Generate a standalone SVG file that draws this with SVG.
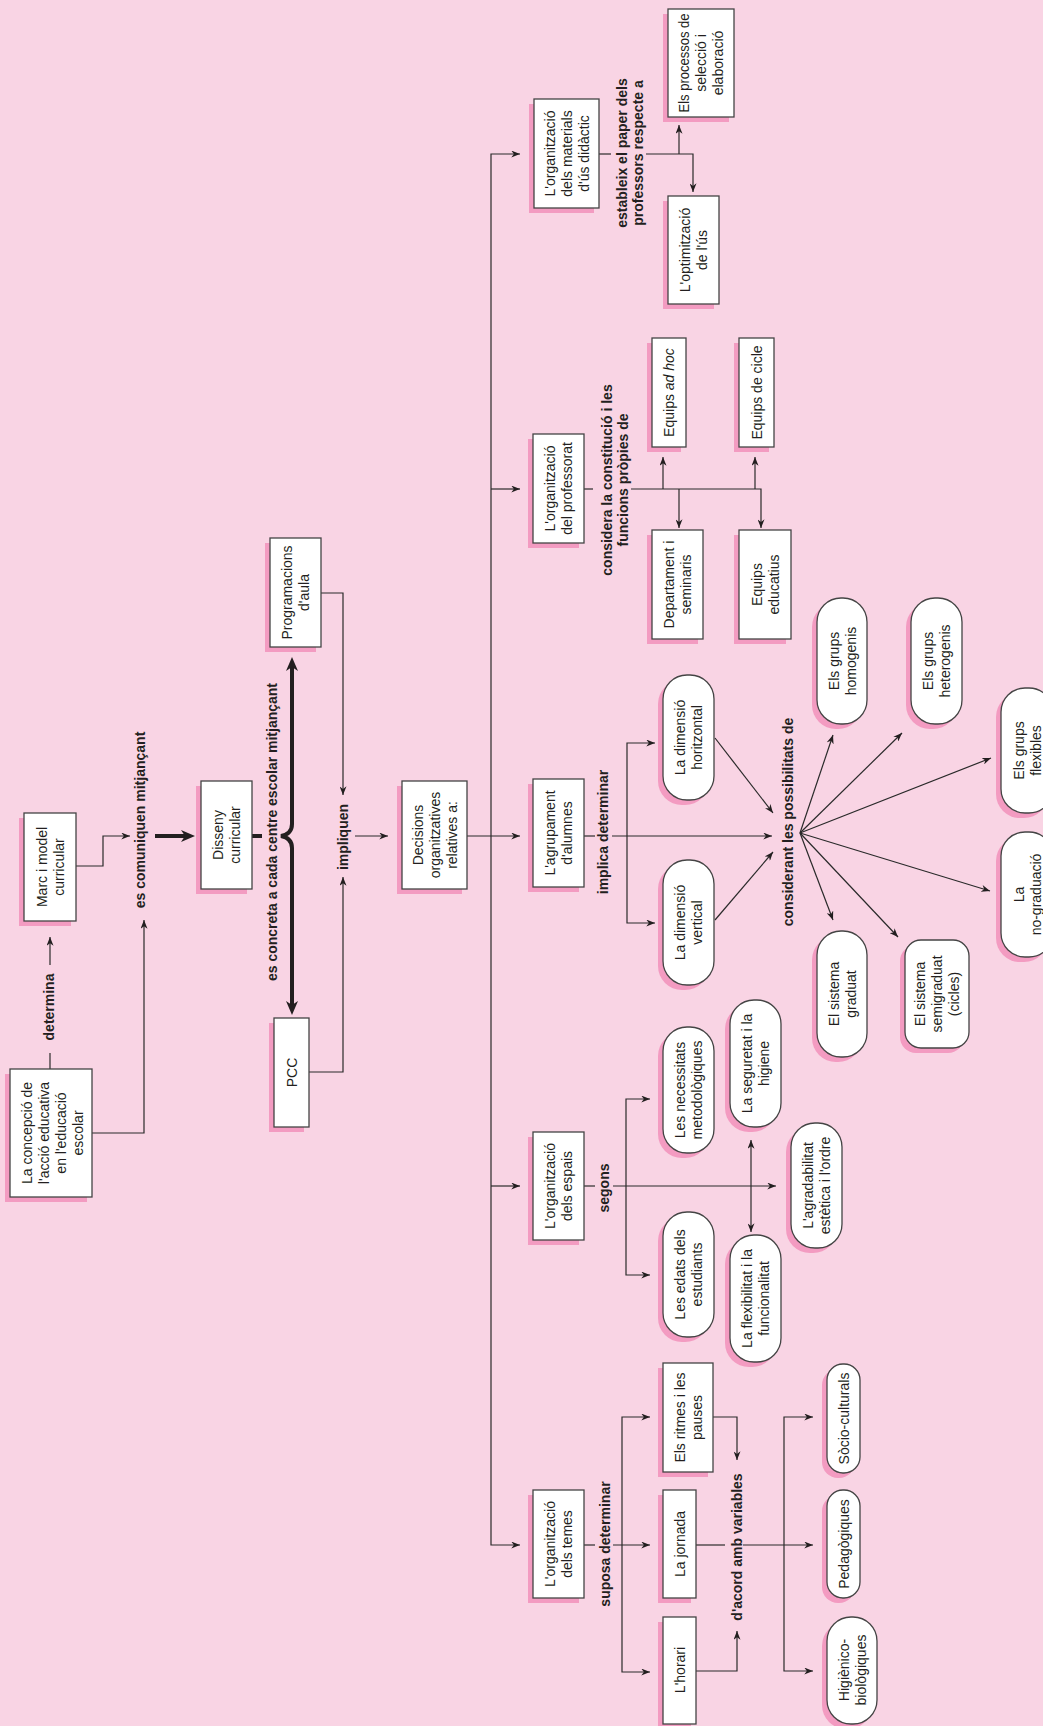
<svg xmlns="http://www.w3.org/2000/svg" width="1043" height="1726" viewBox="0 0 1043 1726">
<defs>
<style>
.sh{fill:#f39bc1}
.bx{fill:#fff;stroke:#444;stroke-width:1.3}
.t{font-family:"Liberation Sans",Arial,sans-serif;font-size:14px;fill:#231f20;text-anchor:middle}
.b{font-weight:bold}
.ln{fill:none;stroke:#2a2a2a;stroke-width:1.2}
.a{marker-end:url(#ar)}
.aa{marker-start:url(#ar);marker-end:url(#ar)}
.tk{fill:none;stroke:#231f20;stroke-width:4}
</style>
<marker id="ar" viewBox="0 0 10 8" refX="10" refY="4" markerWidth="9" markerHeight="7" markerUnits="userSpaceOnUse" orient="auto-start-reverse"><path d="M0,0 L10,4 L0,8 L3,4 z" fill="#231f20"/></marker>
<marker id="tkar" viewBox="0 0 14 12" refX="8" refY="6" markerWidth="14" markerHeight="12" markerUnits="userSpaceOnUse" orient="auto-start-reverse"><path d="M0,0 L14,6 L0,12 L4,6 z" fill="#231f20"/></marker>
</defs>
<rect width="1043" height="1726" fill="#f9d4e4"/>

<g id="connectors">
<path class="ln" d="M50,1069 V1053"/>
<path class="ln a" d="M50,965 V937"/>
<path class="ln a" d="M92,1133 H144 V920"/>
<path class="ln a" d="M76,866 H103 V836 H130"/>
<path class="tk" d="M155,836 H189" marker-end="url(#tkar)"/>
<path class="tk" d="M252,836 H262"/>
<path class="tk" d="M292,663 V824 Q292,834 281,836 Q292,838 292,848 V1009" marker-start="url(#tkar)" marker-end="url(#tkar)"/>
<path class="ln a" d="M321,593 H343 V795"/>
<path class="ln a" d="M309,1072 H343 V877"/>
<path class="ln a" d="M355,836 H388"/>
<path class="ln a" d="M467,836 H520"/>
<path class="ln aa" d="M520,154 H491 V1545 H520"/>
<path class="ln a" d="M491,489 H520"/>
<path class="ln a" d="M491,1186 H520"/>
<path class="ln" d="M599,154 H611"/>
<path class="ln a" d="M646,154 H693 V192"/>
<path class="ln a" d="M679,154 V125"/>
<path class="ln" d="M584,489 H593"/>
<path class="ln a" d="M631,489 H761 V528"/>
<path class="ln a" d="M663,489 V457"/>
<path class="ln a" d="M679,489 V528"/>
<path class="ln a" d="M755,489 V457"/>
<path class="ln" d="M584,836 H595"/>
<path class="ln a" d="M612,836 H772"/>
<path class="ln aa" d="M655,743 H627 V923 H655"/>
<path class="ln a" d="M715,738 L773,813"/>
<path class="ln a" d="M715,920 L773,852"/>
<path class="ln a" d="M800,833 L833,735"/>
<path class="ln a" d="M800,833 L902,733"/>
<path class="ln a" d="M800,833 L991,758"/>
<path class="ln a" d="M800,833 L990,891"/>
<path class="ln a" d="M800,833 L898,937"/>
<path class="ln a" d="M800,833 L833,920"/>
<path class="ln" d="M584,1186 H595"/>
<path class="ln a" d="M613,1186 H776"/>
<path class="ln aa" d="M650,1099 H626 V1275 H650"/>
<path class="ln aa" d="M751,1140 V1232"/>
<path class="ln" d="M584,1545 H595"/>
<path class="ln a" d="M613,1545 H650"/>
<path class="ln aa" d="M650,1417 H622 V1672 H650"/>
<path class="ln a" d="M713,1417 H737 V1460"/>
<path class="ln a" d="M696,1671 H737 V1631"/>
<path class="ln" d="M696,1545 H725"/>
<path class="ln a" d="M743,1545 H813"/>
<path class="ln aa" d="M813,1417 H784 V1671 H813"/>
</g>

<g id="labels">
<text class="t b" transform="translate(49,1007) rotate(-90)"><tspan x="0" y="5">determina</tspan></text>
<text class="t b" transform="translate(140,820) rotate(-90)"><tspan x="0" y="5">es comuniquen mitjançant</tspan></text>
<text class="t b" transform="translate(272,832) rotate(-90)"><tspan x="0" y="5">es concreta a cada centre escolar mitjançant</tspan></text>
<text class="t b" transform="translate(343,837) rotate(-90)"><tspan x="0" y="5">impliquen</tspan></text>
<text class="t b" transform="translate(630,153) rotate(-90)"><tspan x="0" y="-3">estableix el paper dels</tspan><tspan x="0" y="13">professors respecte a</tspan></text>
<text class="t b" transform="translate(614.5,480) rotate(-90)"><tspan x="0" y="-3">considera la constitució i les</tspan><tspan x="0" y="13">funcions pròpies de</tspan></text>
<text class="t b" transform="translate(603,832) rotate(-90)"><tspan x="0" y="5">implica determinar</tspan></text>
<text class="t b" transform="translate(788,822) rotate(-90)"><tspan x="0" y="5">considerant les possibilitats de</tspan></text>
<text class="t b" transform="translate(604,1188) rotate(-90)"><tspan x="0" y="5">segons</tspan></text>
<text class="t b" transform="translate(605,1544) rotate(-90)"><tspan x="0" y="5">suposa determinar</tspan></text>
<text class="t b" transform="translate(737,1547) rotate(-90)"><tspan x="0" y="5">d'acord amb variables</tspan></text>
</g>

<g id="n-concepcio"><rect class="sh" x="5" y="1074" width="82" height="128"/><rect class="bx" x="10" y="1069" width="82" height="128"/>
<text class="t" transform="translate(52,1133) rotate(-90)"><tspan x="0" y="-20.5">La concepció de</tspan><tspan x="0" y="-3.5">l'acció educativa</tspan><tspan x="0" y="13.5">en l'educació</tspan><tspan x="0" y="30.5">escolar</tspan></text></g>

<g id="n-marc"><rect class="sh" x="19" y="818" width="52" height="108"/><rect class="bx" x="24" y="813" width="52" height="108"/>
<text class="t" transform="translate(50,867) rotate(-90)"><tspan x="0" y="-3.5">Marc i model</tspan><tspan x="0" y="13.5">curricular</tspan></text></g>

<g id="n-disseny"><rect class="sh" x="196" y="786" width="51" height="108"/><rect class="bx" x="201" y="781" width="51" height="108"/>
<text class="t" transform="translate(226.5,835) rotate(-90)"><tspan x="0" y="-3.5">Disseny</tspan><tspan x="0" y="13.5">curricular</tspan></text></g>

<g id="n-programacions"><rect class="sh" x="265" y="543" width="51" height="109"/><rect class="bx" x="270" y="538" width="51" height="109"/>
<text class="t" transform="translate(295.5,592.5) rotate(-90)"><tspan x="0" y="-3.5">Programacions</tspan><tspan x="0" y="13.5">d'aula</tspan></text></g>

<g id="n-pcc"><rect class="sh" x="269" y="1023" width="35" height="109"/><rect class="bx" x="274" y="1018" width="35" height="109"/>
<text class="t" transform="translate(291.5,1072.5) rotate(-90)"><tspan x="0" y="5">PCC</tspan></text></g>

<g id="n-decisions"><rect class="sh" x="397" y="786" width="65" height="108"/><rect class="bx" x="402" y="781" width="65" height="108"/>
<text class="t" transform="translate(434.5,835) rotate(-90)"><tspan x="0" y="-12">Decisions</tspan><tspan x="0" y="5">organitzatives</tspan><tspan x="0" y="22">relatives a:</tspan></text></g>

<g id="n-materials"><rect class="sh" x="529" y="104" width="65" height="109"/><rect class="bx" x="534" y="99" width="65" height="109"/>
<text class="t" transform="translate(566.5,153.5) rotate(-90)"><tspan x="0" y="-12">L'organització</tspan><tspan x="0" y="5">dels materials</tspan><tspan x="0" y="22">d'ús didàctic</tspan></text></g>

<g id="n-processos"><rect class="sh" x="663" y="14" width="66" height="108"/><rect class="bx" x="668" y="9" width="66" height="108"/>
<text class="t" transform="translate(701,63) rotate(-90)"><tspan x="0" y="-12" textLength="99" lengthAdjust="spacingAndGlyphs">Els processos de</tspan><tspan x="0" y="5">selecció i</tspan><tspan x="0" y="22">elaboració</tspan></text></g>

<g id="n-optimitzacio"><rect class="sh" x="663" y="201" width="51" height="108"/><rect class="bx" x="668" y="196" width="51" height="108"/>
<text class="t" transform="translate(693.5,250) rotate(-90)"><tspan x="0" y="-3.5">L'optimització</tspan><tspan x="0" y="13.5">de l'ús</tspan></text></g>

<g id="n-professorat"><rect class="sh" x="528" y="439" width="51" height="109"/><rect class="bx" x="533" y="434" width="51" height="109"/>
<text class="t" transform="translate(558.5,488.5) rotate(-90)"><tspan x="0" y="-3.5">L'organització</tspan><tspan x="0" y="13.5">del professorat</tspan></text></g>

<g id="n-adhoc"><rect class="sh" x="647" y="343" width="34" height="109"/><rect class="bx" x="652" y="338" width="34" height="109"/>
<text class="t" transform="translate(669,392.5) rotate(-90)"><tspan x="0" y="5">Equips <tspan font-style="italic">ad hoc</tspan></tspan></text></g>

<g id="n-cicle"><rect class="sh" x="734" y="343" width="35" height="109"/><rect class="bx" x="739" y="338" width="35" height="109"/>
<text class="t" transform="translate(756.5,392.5) rotate(-90)"><tspan x="0" y="5">Equips de cicle</tspan></text></g>

<g id="n-departament"><rect class="sh" x="647" y="535" width="51" height="109"/><rect class="bx" x="652" y="530" width="51" height="109"/>
<text class="t" transform="translate(677.5,584.5) rotate(-90)"><tspan x="0" y="-3.5">Departament i</tspan><tspan x="0" y="13.5">seminaris</tspan></text></g>

<g id="n-educatius"><rect class="sh" x="734" y="535" width="52" height="109"/><rect class="bx" x="739" y="530" width="52" height="109"/>
<text class="t" transform="translate(765,584.5) rotate(-90)"><tspan x="0" y="-3.5">Equips</tspan><tspan x="0" y="13.5">educatius</tspan></text></g>

<g id="n-agrupament"><rect class="sh" x="528" y="784" width="51" height="108"/><rect class="bx" x="533" y="779" width="51" height="108"/>
<text class="t" transform="translate(558.5,833) rotate(-90)"><tspan x="0" y="-3.5">L'agrupament</tspan><tspan x="0" y="13.5">d'alumnes</tspan></text></g>

<g id="n-horitzontal"><rect class="sh" x="658" y="680" width="51" height="125" rx="24"/><rect class="bx" x="663" y="675" width="51" height="125" rx="24"/>
<text class="t" transform="translate(688.5,737.5) rotate(-90)"><tspan x="0" y="-3.5">La dimensió</tspan><tspan x="0" y="13.5">horitzontal</tspan></text></g>

<g id="n-vertical"><rect class="sh" x="658" y="865" width="51" height="125" rx="24"/><rect class="bx" x="663" y="860" width="51" height="125" rx="24"/>
<text class="t" transform="translate(688.5,922.5) rotate(-90)"><tspan x="0" y="-3.5">La dimensió</tspan><tspan x="0" y="13.5">vertical</tspan></text></g>

<g id="n-homogenis"><rect class="sh" x="812" y="603" width="50" height="126" rx="24"/><rect class="bx" x="817" y="598" width="50" height="126" rx="24"/>
<text class="t" transform="translate(842,661) rotate(-90)"><tspan x="0" y="-3.5">Els grups</tspan><tspan x="0" y="13.5">homogenis</tspan></text></g>

<g id="n-heterogenis"><rect class="sh" x="906" y="603" width="51" height="126" rx="24"/><rect class="bx" x="911" y="598" width="51" height="126" rx="24"/>
<text class="t" transform="translate(936.5,661) rotate(-90)"><tspan x="0" y="-3.5">Els grups</tspan><tspan x="0" y="13.5">heterogenis</tspan></text></g>

<g id="n-flexibles"><rect class="sh" x="996" y="693" width="52" height="125" rx="24"/><rect class="bx" x="1001" y="688" width="52" height="125" rx="24"/>
<text class="t" transform="translate(1027,750.5) rotate(-90)"><tspan x="0" y="-3.5">Els grups</tspan><tspan x="0" y="13.5">flexibles</tspan></text></g>

<g id="n-nograduacio"><rect class="sh" x="996" y="837" width="52" height="125" rx="24"/><rect class="bx" x="1001" y="832" width="52" height="125" rx="24"/>
<text class="t" transform="translate(1027,894.5) rotate(-90)"><tspan x="0" y="-3.5">La</tspan><tspan x="0" y="13.5">no-graduació</tspan></text></g>

<g id="n-graduat"><rect class="sh" x="812" y="936" width="50" height="126" rx="24"/><rect class="bx" x="817" y="931" width="50" height="126" rx="24"/>
<text class="t" transform="translate(842,994) rotate(-90)"><tspan x="0" y="-3.5">El sistema</tspan><tspan x="0" y="13.5">graduat</tspan></text></g>

<g id="n-semigraduat"><rect class="sh" x="900" y="945" width="64" height="108" rx="16"/><rect class="bx" x="905" y="940" width="64" height="108" rx="16"/>
<text class="t" transform="translate(937,994) rotate(-90)"><tspan x="0" y="-12">El sistema</tspan><tspan x="0" y="5">semigraduat</tspan><tspan x="0" y="22">(cicles)</tspan></text></g>

<g id="n-espais"><rect class="sh" x="528" y="1137" width="51" height="108"/><rect class="bx" x="533" y="1132" width="51" height="108"/>
<text class="t" transform="translate(558.5,1186) rotate(-90)"><tspan x="0" y="-3.5">L'organització</tspan><tspan x="0" y="13.5">dels espais</tspan></text></g>

<g id="n-necessitats"><rect class="sh" x="658" y="1032" width="51" height="126" rx="24"/><rect class="bx" x="663" y="1027" width="51" height="126" rx="24"/>
<text class="t" transform="translate(688.5,1090) rotate(-90)"><tspan x="0" y="-3.5">Les necessitats</tspan><tspan x="0" y="13.5">metodològiques</tspan></text></g>

<g id="n-edats"><rect class="sh" x="658" y="1217" width="51" height="125" rx="24"/><rect class="bx" x="663" y="1212" width="51" height="125" rx="24"/>
<text class="t" transform="translate(688.5,1274.5) rotate(-90)"><tspan x="0" y="-3.5">Les edats dels</tspan><tspan x="0" y="13.5">estudiants</tspan></text></g>

<g id="n-seguretat"><rect class="sh" x="725" y="1005" width="51" height="127" rx="24"/><rect class="bx" x="730" y="1000" width="51" height="127" rx="24"/>
<text class="t" transform="translate(755.5,1063.5) rotate(-90)"><tspan x="0" y="-3.5">La seguretat i la</tspan><tspan x="0" y="13.5">higiene</tspan></text></g>

<g id="n-flexibilitat"><rect class="sh" x="725" y="1240" width="51" height="127" rx="24"/><rect class="bx" x="730" y="1235" width="51" height="127" rx="24"/>
<text class="t" transform="translate(755.5,1298.5) rotate(-90)"><tspan x="0" y="-3.5">La flexibilitat i la</tspan><tspan x="0" y="13.5">funcionalitat</tspan></text></g>

<g id="n-agradabilitat"><rect class="sh" x="786" y="1128" width="51" height="125" rx="24"/><rect class="bx" x="791" y="1123" width="51" height="125" rx="24"/>
<text class="t" transform="translate(816.5,1185.5) rotate(-90)"><tspan x="0" y="-3.5">L'agradabilitat</tspan><tspan x="0" y="13.5">estètica i l'ordre</tspan></text></g>

<g id="n-temes"><rect class="sh" x="528" y="1495" width="51" height="108"/><rect class="bx" x="533" y="1490" width="51" height="108"/>
<text class="t" transform="translate(558.5,1544) rotate(-90)"><tspan x="0" y="-3.5">L'organització</tspan><tspan x="0" y="13.5">dels temes</tspan></text></g>

<g id="n-ritmes"><rect class="sh" x="658" y="1368" width="50" height="109"/><rect class="bx" x="663" y="1363" width="50" height="109"/>
<text class="t" transform="translate(688,1417.5) rotate(-90)"><tspan x="0" y="-3.5">Els ritmes i les</tspan><tspan x="0" y="13.5">pauses</tspan></text></g>

<g id="n-jornada"><rect class="sh" x="658" y="1495" width="33" height="108"/><rect class="bx" x="663" y="1490" width="33" height="108"/>
<text class="t" transform="translate(679.5,1544) rotate(-90)"><tspan x="0" y="5">La jornada</tspan></text></g>

<g id="n-horari"><rect class="sh" x="658" y="1622" width="33" height="107"/><rect class="bx" x="663" y="1617" width="33" height="107"/>
<text class="t" transform="translate(679.5,1670) rotate(-90)"><tspan x="0" y="5">L'horari</tspan></text></g>

<g id="n-socio"><rect class="sh" x="822" y="1369" width="33" height="109" rx="16"/><rect class="bx" x="827" y="1364" width="33" height="109" rx="16"/>
<text class="t" transform="translate(843.5,1418.5) rotate(-90)"><tspan x="0" y="5">Sòcio-culturals</tspan></text></g>

<g id="n-pedagogiques"><rect class="sh" x="822" y="1495" width="33" height="108" rx="16"/><rect class="bx" x="827" y="1490" width="33" height="108" rx="16"/>
<text class="t" transform="translate(843.5,1544) rotate(-90)"><tspan x="0" y="5">Pedagògiques</tspan></text></g>

<g id="n-higienico"><rect class="sh" x="822" y="1622" width="50" height="107" rx="24"/><rect class="bx" x="827" y="1617" width="50" height="107" rx="24"/>
<text class="t" transform="translate(852,1670) rotate(-90)"><tspan x="0" y="-3.5">Higiènico-</tspan><tspan x="0" y="13.5">biològiques</tspan></text></g>
</svg>
